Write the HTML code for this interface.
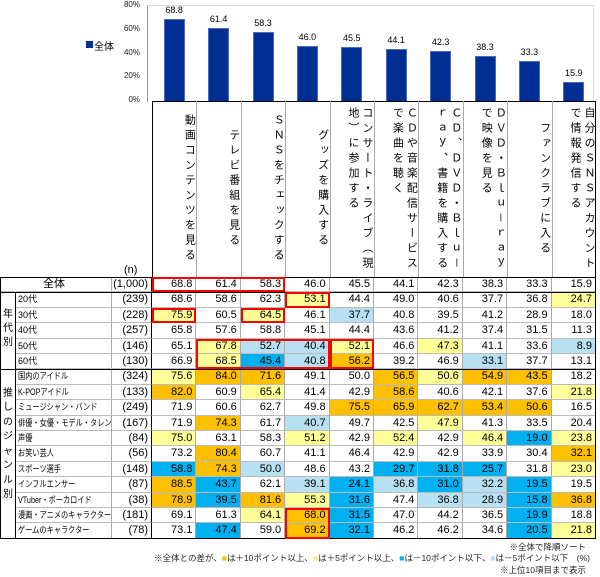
<!DOCTYPE html>
<html><head><meta charset="utf-8">
<style>
body{margin:0;width:600px;height:577px;background:#fff;position:relative;overflow:hidden;font-family:"Liberation Sans","Noto Sans CJK JP",sans-serif;color:#000}
.a{position:absolute;box-sizing:border-box}
.cell{position:absolute;box-sizing:border-box;font-size:11px;text-align:right;padding-right:3px;line-height:15px;border-right:1px solid #aaa;border-bottom:1px solid #bbb;white-space:nowrap;overflow:hidden}
.cell .sq{display:inline-block;transform:scaleX(0.8);transform-origin:left center}
.hd{position:absolute;writing-mode:vertical-rl;font-size:11px;letter-spacing:4px;line-height:14px;top:104px;height:170px}
.tick{position:absolute;font-size:8px;right:460px;width:40px;text-align:right;color:#222}
.foot{position:absolute;font-size:8.5px;right:14px;color:#222;white-space:nowrap}
</style></head><body>
<div id="root"></div>
<script>
const categories=["動画コンテンツを見る","テレビ番組を見る","ＳＮＳをチェックする","グッズを購入する","コンサート・ライブ（現<br>地）に参加する","ＣＤや音楽配信サービス<br>で楽曲を聴く","ＣＤ、ＤＶＤ・Ｂｌｕ－<br>ｒａｙ、書籍を購入する","ＤＶＤ・Ｂｌｕ－ｒａｙ<br>で映像を見る","ファンクラブに入る","自分のＳＮＳアカウント<br>で情報発信する"];
const totalValues=[68.8,61.4,58.3,46.0,45.5,44.1,42.3,38.3,33.3,15.9];
const ageLabels=["20代","30代","40代","50代","60代"];
const ageN=["(239)","(228)","(257)","(146)","(130)"];
const ageValues=[
[68.6,58.6,62.3,53.1,44.4,49.0,40.6,37.7,36.8,24.7],
[75.9,60.5,64.5,46.1,37.7,40.8,39.5,41.2,28.9,18.0],
[65.8,57.6,58.8,45.1,44.4,43.6,41.2,37.4,31.5,11.3],
[65.1,67.8,52.7,40.4,52.1,46.6,47.3,41.1,33.6,8.9],
[66.9,68.5,45.4,40.8,56.2,39.2,46.9,33.1,37.7,13.1]];
const genreLabels=["国内のアイドル","K-POPアイドル","ミュージシャン・バンド","俳優・女優・モデル・タレント","声優","お笑い芸人","スポーツ選手","インフルエンサー","VTuber・ボーカロイド","漫画・アニメのキャラクター","ゲームのキャラクター"];
const genreN=["(324)","(133)","(249)","(167)","(84)","(56)","(148)","(87)","(38)","(181)","(78)"];
const genreValues=[
[75.6,84.0,71.6,49.1,50.0,56.5,50.6,54.9,43.5,18.2],
[82.0,60.9,65.4,41.4,42.9,58.6,40.6,42.1,37.6,21.8],
[71.9,60.6,62.7,49.8,75.5,65.9,62.7,53.4,50.6,16.5],
[71.9,74.3,61.7,40.7,49.7,42.5,47.9,41.3,33.5,20.4],
[75.0,63.1,58.3,51.2,42.9,52.4,42.9,46.4,19.0,23.8],
[73.2,80.4,60.7,41.1,46.4,42.9,42.9,33.9,30.4,32.1],
[58.8,74.3,50.0,48.6,43.2,29.7,31.8,25.7,31.8,23.0],
[88.5,43.7,62.1,39.1,24.1,36.8,31.0,32.2,19.5,19.5],
[78.9,39.5,81.6,55.3,31.6,47.4,36.8,28.9,15.8,36.8],
[69.1,61.3,64.1,68.0,31.5,47.0,44.2,36.5,19.9,18.8],
[73.1,47.4,59.0,69.2,32.1,46.2,46.2,34.6,20.5,21.8]];
const yTicks=[0,20,40,60,80];

const root=document.getElementById('root');
function mk(cls,name,html,css){const d=document.createElement('div');d.className=cls;d.innerHTML=html;d.style.cssText=css;


root.appendChild(d);return d;}
const X0=152,CW=44.4,Y0=101,YT=6;
const yS=v=>Y0-(v/80)*(Y0-YT);
const xC=i=>X0+i*CW;
mk('a','plot-area','','left:147px;top:5px;width:447px;height:97px;border:1px solid #ddd;border-left:1px solid #999;border-bottom:none');
yTicks.forEach(t=>mk('tick','y-tick-label',t+'%','top:'+(yS(t)-6)+'px'));
totalValues.forEach((v,i)=>{
 const cx=xC(i)+CW/2;
 mk('a','bar','', 'left:'+(cx-10.5)+'px;top:'+yS(v)+'px;width:21px;height:'+(Y0-yS(v))+'px;background:#002E93;border:1px solid #4a6bc0;border-bottom:none');
 mk('a','bar-value-label',v.toFixed(1),'left:'+(cx-20)+'px;top:'+(yS(v)-14)+'px;width:40px;text-align:center;font-size:9px');
});
mk('a','legend-swatch','','left:86px;top:41px;width:7px;height:7px;background:#002E93');
mk('a','legend-label','全体','left:94px;top:38px;font-size:10px');
mk('a','header-frame','','left:152px;top:101px;width:444px;height:177px;border-left:1px solid #000;border-right:1px solid #000;border-top:1px solid #000');
categories.forEach((c,i)=>{
 if(i>0)mk('a','header-divider','','left:'+xC(i)+'px;top:101px;width:1px;height:177px;background:#aaa');
 mk('hd','category-header',c,'left:'+xC(i)+'px;width:'+CW+'px;display:flex;justify-content:center');
});
mk('a','n-header','(n)','left:124px;top:264px;font-size:11px');
const rows=[{lab:'全体',n:'(1,000)',v:totalValues,all:true}];
ageLabels.forEach((l,i)=>rows.push({lab:l,n:ageN[i],v:ageValues[i]}));
genreLabels.forEach((l,i)=>rows.push({lab:l,n:genreN[i],v:genreValues[i],g:true}));
const RT=277,RH=15.4;
function col(d){return d>=10?'#FFC000':d>=5?'#FFFF99':d<=-10?'#00B0F0':d<=-5?'#B7E0F3':'#fff';}
rows.forEach((r,ri)=>{
 const y=RT+ri*RH;
 if(r.all) mk('cell','row-label',r.lab,'left:0;top:'+y+'px;width:112px;height:'+RH+'px;text-align:center');
 else mk('cell','row-label',r.g?'<span class="sq">'+r.lab+'</span>':r.lab,'left:15px;top:'+y+'px;width:97px;height:'+RH+'px;text-align:left;padding-left:3px;font-size:9px;overflow:visible');
 mk('cell','row-n',r.n,'left:112px;top:'+y+'px;width:40px;height:'+RH+'px;border-right:1px solid #000;background:#fff');
 r.v.forEach((v,i)=>{
  const bg=r.all?'#fff':col(v-totalValues[i]);
  mk('cell','data-cell',v.toFixed(1),'left:'+xC(i)+'px;top:'+y+'px;width:'+CW+'px;height:'+RH+'px;background:'+bg);
 });
});
const TB=RT+rows.length*RH;
mk('a','table-frame','','left:0;top:'+RT+'px;width:596px;height:'+(TB-RT)+'px;border:1px solid #000');
mk('a','sep1','','left:0;top:'+(RT+RH)+'px;width:596px;height:1px;background:#000');
mk('a','sep2','','left:0;top:'+(RT+6*RH)+'px;width:596px;height:1px;background:#000');
mk('a','group-col','','left:15px;top:'+(RT+RH)+'px;width:1px;height:'+(TB-RT-RH)+'px;background:#000');
mk('a','group-label-age','年<br>代<br>別','left:2px;top:'+(RT+2*RH)+'px;width:12px;font-size:10px;line-height:14px;text-align:center');
mk('a','group-label-genre','推<br>し<br>の<br>ジ<br>ャ<br>ン<br>ル<br>別','left:2px;top:'+(RT+7*RH+2)+'px;width:12px;font-size:10px;line-height:14.5px;text-align:center');
function box(c0,c1,r0,r1,name){mk('a',name,'','left:'+xC(c0)+'px;top:'+(RT+r0*RH)+'px;width:'+((c1-c0+1)*CW)+'px;height:'+((r1-r0+1)*RH)+'px;border:2px solid #f00');}
box(0,2,0,0,'highlight-box');box(3,3,1,1,'highlight-box');box(0,0,2,2,'highlight-box');box(2,2,2,2,'highlight-box');
box(1,3,4,5,'highlight-box');box(4,4,4,5,'highlight-box');box(3,3,15,16,'highlight-box');
mk('foot','note-sort','※全体で降順ソート','top:541px');
mk('foot','color-legend','※全体との差が、<span style="color:#FFC000">■</span>は＋10ポイント以上、<span style="color:#F5F07A">■</span>は＋5ポイント以上、<span style="color:#00B0F0">■</span>は－10ポイント以下、<span style="color:#B7E0F3">■</span>は－5ポイント以下　(%)','top:552px;right:10px');
mk('foot','note-top10','※上位10項目まで表示','top:564px');
</script>
</body></html>
